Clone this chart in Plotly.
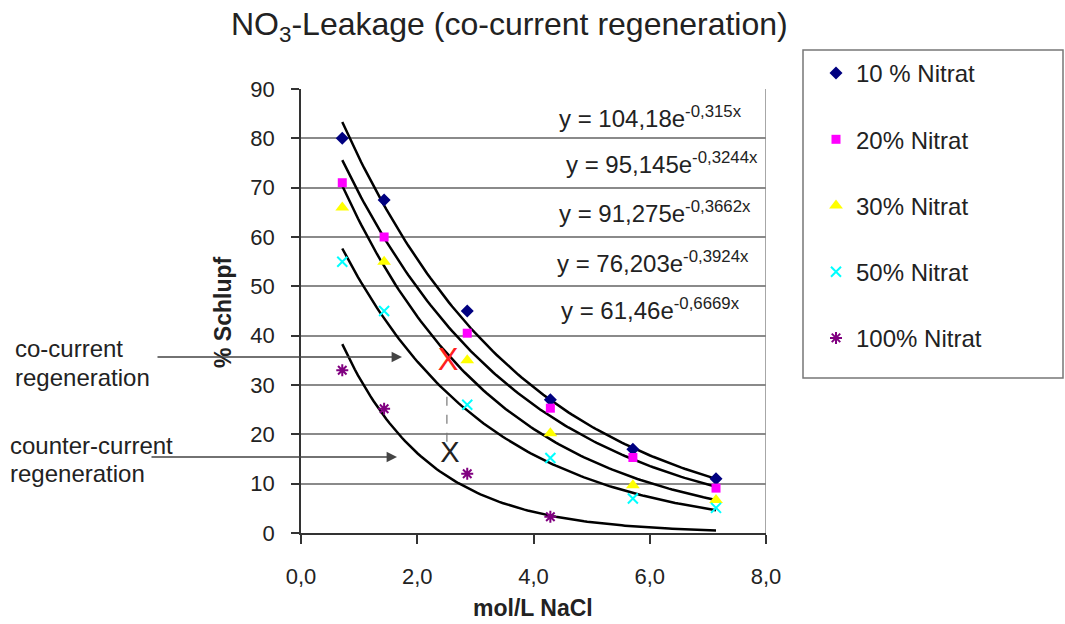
import numpy as np
import plotly.graph_objects as go

# ---------------- data ----------------
nacl = [0.71, 1.43, 2.86, 4.29, 5.71, 7.14]
nacl_100 = [0.71, 1.43, 2.86, 4.29]

series_names = ["10 % Nitrat", "20% Nitrat", "30% Nitrat", "50% Nitrat", "100% Nitrat"]
s10 = [80, 67.5, 45, 27, 17, 11]
s20 = [71, 60, 40.5, 25.3, 15.3, 9.1]
s30 = [66, 55, 35, 20.2, 9.7, 6.7]
s50 = [55, 45, 26, 15.2, 7, 5.1]
s100 = [33, 25.2, 12, 3.3]

# exponential trendlines y = a * exp(-b x)
fit_a = [104.18, 95.145, 91.275, 76.203, 61.46]
fit_b = [0.315, 0.3244, 0.3662, 0.3924, 0.6669]
fit_labels = [
    "y = 104,18e<sup>-0,315x</sup>",
    "y = 95,145e<sup>-0,3244x</sup>",
    "y = 91,275e<sup>-0,3662x</sup>",
    "y = 76,203e<sup>-0,3924x</sup>",
    "y = 61,46e<sup>-0,6669x</sup>",
]

# comparison marks
co_x, co_y = [2.53], [34.7]
counter_x, counter_y = [2.56], [15.8]
dash_x, dash_y = [2.51, 2.51], [27.6, 17.0]

x_ticks = [0, 2, 4, 6, 8]

# ---------------- styles ----------------
FONT = "Liberation Sans, Arial, sans-serif"
W, H = 1065, 624
PX0, PX1, PY0, PY1 = 301, 766, 89, 533  # plot area in pixels


def px(x):
    return x / W


def py(y):
    return 1 - y / H


styles = [
    dict(symbol="diamond", color="#000080", size=10, line=dict(width=0)),
    dict(symbol="square", color="#FF00FF", size=9, line=dict(width=0)),
    dict(symbol="triangle-up", color="#FFFF00", size=12, line=dict(width=0)),
    dict(symbol="x-thin-open", color="#00FFFF", size=10, line=dict(width=2, color="#00FFFF")),
    dict(symbol="asterisk-open", color="#800080", size=10, line=dict(width=2, color="#800080")),
]

fig = go.Figure()

# trendlines
for a, b, xs in zip(fit_a, fit_b, [nacl] * 5):
    xx = np.linspace(xs[0], xs[-1], 120)
    fig.add_trace(go.Scatter(x=xx, y=a * np.exp(-b * xx), mode="lines",
                             line=dict(color="black", width=2.5),
                             showlegend=False, hoverinfo="skip"))

# data series
all_y = [s10, s20, s30, s50, s100]
all_x = [nacl, nacl, nacl, nacl, nacl_100]
for i, (name, xs, ys, st) in enumerate(zip(series_names, all_x, all_y, styles)):
    fig.add_trace(go.Scatter(x=xs, y=ys, mode="markers", name=name,
                             legendgroup=f"g{i}", marker=st))

# dashed connector and X marks
fig.add_trace(go.Scatter(x=dash_x, y=dash_y, mode="lines",
                         line=dict(color="#777", width=1.2, dash="dash"),
                         showlegend=False, hoverinfo="skip"))
fig.add_trace(go.Scatter(x=co_x, y=co_y, mode="text", text=["X"],
                         textfont=dict(family=FONT, size=31, color="#FF2020"),
                         showlegend=False, hoverinfo="skip"))
fig.add_trace(go.Scatter(x=counter_x, y=counter_y, mode="text", text=["X"],
                         textfont=dict(family=FONT, size=29, color="#222"),
                         showlegend=False, hoverinfo="skip"))

# ---------------- layout ----------------
fig.update_layout(
    width=W, height=H,
    margin=dict(l=0, r=0, t=0, b=0, pad=0, autoexpand=False),
    paper_bgcolor="white", plot_bgcolor="white",
    separators=", ",
    font=dict(family=FONT, size=22, color="#222"),
    legend=dict(x=px(816), y=py(51), xanchor="left", yanchor="top",
                traceorder="grouped", tracegroupgap=32,
                font=dict(family=FONT, size=24, color="#222"),
                bgcolor="rgba(0,0,0,0)", borderwidth=0),
    xaxis=dict(domain=[px(PX0), px(PX1)], range=[0, 8], tickvals=x_ticks,
               tickformat=".1f", ticks="outside", ticklen=9, tickwidth=1.5,
               tickcolor="#333", showline=True, linecolor="#333", linewidth=1.5,
               showgrid=False, zeroline=False, ticklabelstandoff=14,
               automargin=False, tickfont=dict(size=22)),
    yaxis=dict(domain=[py(PY1), py(PY0)], range=[0, 90], dtick=10,
               ticks="outside", ticklen=8, tickwidth=1.5, tickcolor="#333",
               showline=True, linecolor="#333", linewidth=1.5,
               showgrid=True, gridcolor="#8a8a8a", gridwidth=1.5,
               zeroline=False, ticklabelstandoff=12, automargin=False,
               tickfont=dict(size=22)),
    showlegend=True,
)

shapes = [
    # right border of plot
    dict(type="line", xref="x", yref="y", x0=8, x1=8, y0=0, y1=90,
         line=dict(color="#8a8a8a", width=1.5)),
    # legend box
    dict(type="rect", xref="paper", yref="paper", x0=px(803), x1=px(1063),
         y0=py(378), y1=py(50), line=dict(color="#777", width=1.5)),
]
fig.update_layout(shapes=shapes)

ann = []
# title
ann.append(dict(text="NO<sub>3</sub>-Leakage (co-current regeneration)",
                x=px(509), y=py(27), xref="paper", yref="paper",
                showarrow=False, xanchor="center", yanchor="middle",
                font=dict(family=FONT, size=32, color="#222")))
# axis titles
ann.append(dict(text="<b>mol/L NaCl</b>", x=px(533), y=py(608), xref="paper", yref="paper",
                showarrow=False, xanchor="center", yanchor="middle",
                font=dict(family=FONT, size=23, color="#222")))
ann.append(dict(text="<b>% Schlupf</b>", x=px(223), y=py(312), xref="paper", yref="paper",
                showarrow=False, xanchor="center", yanchor="middle", textangle=-90,
                font=dict(family=FONT, size=23, color="#222")))
# equations
eq_pos = [(557, 117), (564, 163), (557, 212), (555, 262), (559, 309)]
for lab, (ex, ey) in zip(fit_labels, eq_pos):
    ann.append(dict(text=lab, x=px(ex), y=py(ey), xref="paper", yref="paper",
                    showarrow=False, xanchor="left", yanchor="middle",
                    font=dict(family=FONT, size=24, color="#222")))
# left labels
for txt, lx, ly in [("co-current", 13, 348), ("regeneration", 13, 377),
                    ("counter-current", 8, 445), ("regeneration", 8, 473)]:
    ann.append(dict(text=txt, x=px(lx), y=py(ly), xref="paper", yref="paper",
                    showarrow=False, xanchor="left", yanchor="middle",
                    font=dict(family=FONT, size=24, color="#222")))
# arrows
for hx, hy, tx in [(402, 357, 156), (397, 457, 150)]:
    ann.append(dict(text="", x=px(hx), y=py(hy), xref="paper", yref="paper",
                    ax=-(hx - tx), ay=0, showarrow=True, arrowhead=2,
                    arrowsize=1.3, arrowwidth=1.6, arrowcolor="#444"))
fig.update_layout(annotations=ann)

fig.write_html("out.html", config={"displayModeBar": False},
               post_script="document.body.style.margin='0';document.body.style.overflow='hidden';")
